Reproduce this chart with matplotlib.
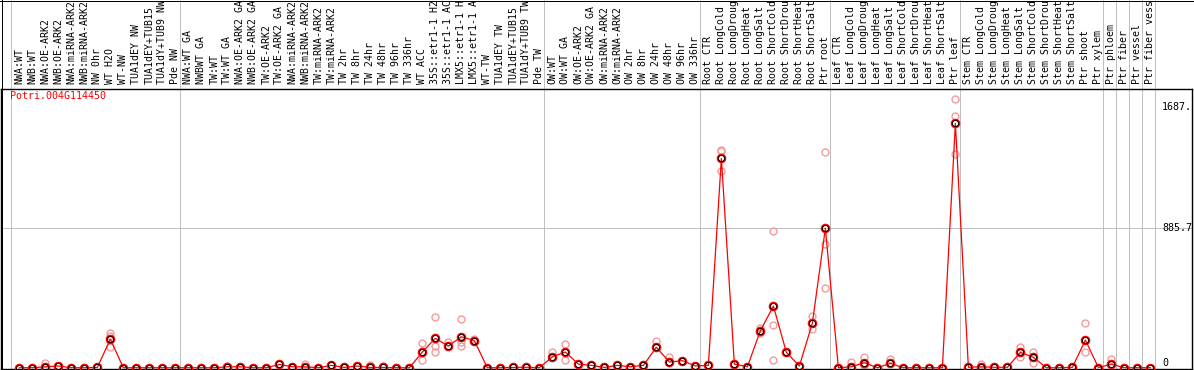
import matplotlib
matplotlib.use("Agg")
import matplotlib.pyplot as plt
from matplotlib.lines import Line2D
from matplotlib.transforms import blended_transform_factory
import numpy as np

# sample groups (labels as in the reference, long ones get cut at the top)
grp_nw = ["NWA:WT", "NWB:WT", "NWA:OE-ARK2", "NWB:OE-ARK2", "NWA:miRNA-ARK2",
          "NWB:miRNA-ARK2", "NW 0hr", "WT H2O", "WT-NW", "TUA1dEY NW",
          "TUA1dEY+TUB15 NW", "TUA1dY+TUB9 NW", "Pde NW"]
grp_tw = ["NWA:WT GA", "NWBWT GA", "TW:WT", "TW:WT GA", "NWA:OE-ARK2 GA",
          "NWB:OE-ARK2 GA", "TW:OE-ARK2", "TW:OE-ARK2 GA", "NWA:miRNA-ARK2",
          "NWB:miRNA-ARK2", "TW:miRNA-ARK2", "TW:miRNA-ARK2", "TW 2hr", "TW 8hr",
          "TW 24hr", "TW 48hr", "TW 96hr", "TW 336hr", "WT ACC",
          "35S::etr1-1 H2O", "35S::etr1-1 ACC", "LMX5::etr1-1 H2O",
          "LMX5::etr1-1 ACC", "WT-TW", "TUA1dEY TW", "TUA1dEY+TUB15 TW",
          "TUA1dY+TUB9 TW", "Pde TW"]
grp_ow = ["OW:WT", "OW:WT GA", "OW:OE-ARK2", "OW:OE-ARK2 GA", "OW:miRNA-ARK2",
          "OW:miRNA-ARK2", "OW 2hr", "OW 8hr", "OW 24hr", "OW 48hr", "OW 96hr",
          "OW 336hr"]
grp_root = ["Root CTR", "Root LongCold", "Root LongDrought", "Root LongHeat",
            "Root LongSalt", "Root ShortCold", "Root ShortDrought",
            "Root ShortHeat", "Root ShortSalt", "Ptr root"]
grp_leaf = ["Leaf CTR", "Leaf LongCold", "Leaf LongDrought", "Leaf LongHeat",
            "Leaf LongSalt", "Leaf ShortCold", "Leaf ShortDrought",
            "Leaf ShortHeat", "Leaf ShortSalt", "Ptr leaf"]
grp_stem = ["Stem CTR", "Stem LongCold", "Stem LongDrought", "Stem LongHeat",
            "Stem LongSalt", "Stem ShortCold", "Stem ShortDrought",
            "Stem ShortHeat", "Stem ShortSalt", "Ptr shoot", "Ptr xylem"]
grp_ptr = [["Ptr phloem"], ["Ptr fiber"], ["Ptr vessel"], ["Ptr fiber vessel"]]
max_chars = 14  # label strip only has room for this many

# mean expression per sample
mean_nw = [0, 0, 6, 11, 0, 0, 2, 182, 0, 0, 0, 0, 0]
mean_tw = [0, 0, 0, 6, 6, 0, 0, 21, 6, 6, 0, 15, 2, 11, 2, 2, 0, 0, 100, 187,
           138, 197, 172, 0, 0, 2, 3, 0]
mean_ow = [70, 100, 23, 15, 2, 15, 6, 15, 130, 36, 45, 11]
mean_root = [15, 1330, 23, 6, 235, 392, 98, 11, 284, 886]
mean_leaf = [0, 6, 32, 0, 28, 0, 0, 0, 0, 1553]
mean_stem = [3, 6, 3, 3, 98, 66, 0, 0, 3, 176, 1]
mean_ptr = [23, 0, 0, 0]

# replicates that sit away from the mean (sample index, value)
rep_idx = [2, 7, 7, 7, 16, 22, 27, 28, 31, 31, 32, 32, 32, 33, 34, 34, 34, 35,
           41, 42, 42, 49, 50, 54, 54, 54, 57, 57, 58, 58, 58, 61, 61, 62, 62,
           62, 64, 65, 65, 67, 72, 72, 72, 74, 77, 77, 78, 78, 82, 82, 84]
rep_val = [32, 218, 201, 130, 12, 25, 20, 12, 155, 49, 322, 140, 100, 161, 307,
           165, 140, 184, 98, 151, 49, 170, 66, 1383, 1375, 1250, 250, 220, 868,
           269, 49, 326, 244, 1368, 786, 504, 38, 70, 20, 53, 1711, 1599, 1356,
           23, 134, 70, 102, 28, 282, 98, 57]

gene = "Potri.004G114450"
y_max = 1771.4
y_labels = ["1687.", "885.7", "0"]
y_label_vals = [1687, 885.7, 0]

groups = [grp_nw, grp_tw, grp_ow, grp_root, grp_leaf, grp_stem] + grp_ptr
labels = sum(groups, [])
means = np.array(mean_nw + mean_tw + mean_ow + mean_root + mean_leaf
                 + mean_stem + mean_ptr, dtype=float)
x = np.arange(len(labels))

W, H = 1194, 370
fig = plt.figure(figsize=(W / 100, H / 100), dpi=100)
top_px, bot_px, left_px, right_px = 89, 369, 1, 1192
ax = fig.add_axes([left_px / W, 1 - bot_px / H, (right_px - left_px) / W,
                   (bot_px - top_px) / H])
ax.set_xlim(-1.41, 90.2)
ax.set_ylim(-8, y_max)
ax.set_xticks([])
ax.set_yticks([])
for s in ax.spines.values():
    s.set_color("black")
    s.set_linewidth(1.0)

mono = "DejaVu Sans Mono"
grid_c = "#c0c0c0"
px = 0.72

# group separators, reaching up through the label strip
ext = bot_px / (bot_px - top_px)
bounds = np.cumsum([0] + [len(g) for g in groups])
for b in bounds:
    ax.axvline(b - 0.64, 0, ext, color=grid_c, lw=px, clip_on=False, zorder=0)
ax.axhline(y_max / 2, color=grid_c, lw=px, zorder=0)

# frame lines of the label strip
fig.add_artist(Line2D([0, 1], [1 - 0.5 / H] * 2, color="black", lw=px))
fig.add_artist(Line2D([1.5 / W] * 2, [0, 1], color="black", lw=px))

# sample labels
tr = blended_transform_factory(ax.transData, fig.transFigure)
for xi, lab in zip(x, labels):
    ax.text(xi, 1 - 84 / H, lab[:max_chars].rstrip(), rotation=90,
            ha="center", va="bottom", fontsize=7.1, family=mono,
            transform=tr, clip_on=False)

# replicates
pink = "#f29b9b"
ax.plot(x, means, "o", ms=5, mfc="none", mec=pink, mew=1.0, zorder=2)
ax.plot(rep_idx, rep_val, "o", ms=5, mfc="none", mec=pink, mew=1.0, zorder=2)

# mean line and markers
ax.plot(x, means, "-", color="red", lw=0.9, zorder=3)
ax.plot(x, means, "o", ms=5.6, mfc="none", mec="red", mew=1.3, zorder=4)
ax.plot(x, means, "o", ms=4.4, mfc="none", mec="black", mew=0.7, zorder=5)

ax.text(9 / (right_px - left_px), 1 - 7 / (bot_px - top_px), gene,
        color="red", fontsize=7.2, family=mono, transform=ax.transAxes,
        ha="left", va="center")

# value labels on the right
ty = blended_transform_factory(fig.transFigure, ax.transData)
for lab, v, va in zip(y_labels, y_label_vals, ["top", "center", "bottom"]):
    ax.text(1162 / W, v, lab, fontsize=7.2, family=mono, ha="left", va=va,
            transform=ty, clip_on=False)

fig.savefig("out.png", dpi=100)
